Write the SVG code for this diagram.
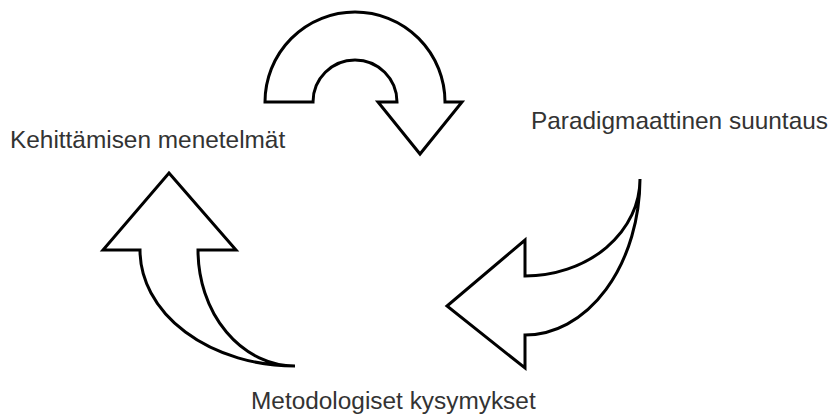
<svg xmlns="http://www.w3.org/2000/svg" width="833" height="414" viewBox="0 0 833 414">
  <style>
    .arrow { fill: #ffffff; stroke: #000000; stroke-width: 3; stroke-linejoin: miter; }
    .label { font-family: "Liberation Sans", Arial, sans-serif; font-size: 24.4px; fill: #333333; }
  </style>
  <rect width="833" height="414" fill="#ffffff"/>

  <!-- Text nodes -->
  <g id="node-kehittamisen">
    <text class="label" x="10" y="148">Kehittämisen menetelmät</text>
  </g>
  <g id="node-paradigmaattinen">
    <text class="label" x="531" y="129">Paradigmaattinen suuntaus</text>
  </g>
  <g id="node-metodologiset">
    <text class="label" x="251" y="409">Metodologiset kysymykset</text>
  </g>

  <!-- Block arrows connecting the stages in a cycle -->
  <g id="connectors">
    <!-- U-turn arrow over the top -->
    <path id="arrow-top" class="arrow"
          d="M265,102 A90,90 0 0 1 445,102 L462,102 L420,154 L378,102 L397,102 A42,42 0 0 0 313,102 Z"/>
    <!-- Curved arrow on the right, pointing left -->
    <path id="arrow-right" class="arrow"
          d="M640,179 A115,157 0 0 1 525,335 L525,368 L447,306 L525,240 L525,276 A115,97 0 0 0 640,179 Z"/>
    <!-- Curved arrow on the left, pointing up -->
    <path id="arrow-left" class="arrow"
          d="M169,173 L236,250 L198,250 A97,116 0 0 0 295,366 A155,116 0 0 1 140,250 L103,250 Z"/>
  </g>
</svg>
